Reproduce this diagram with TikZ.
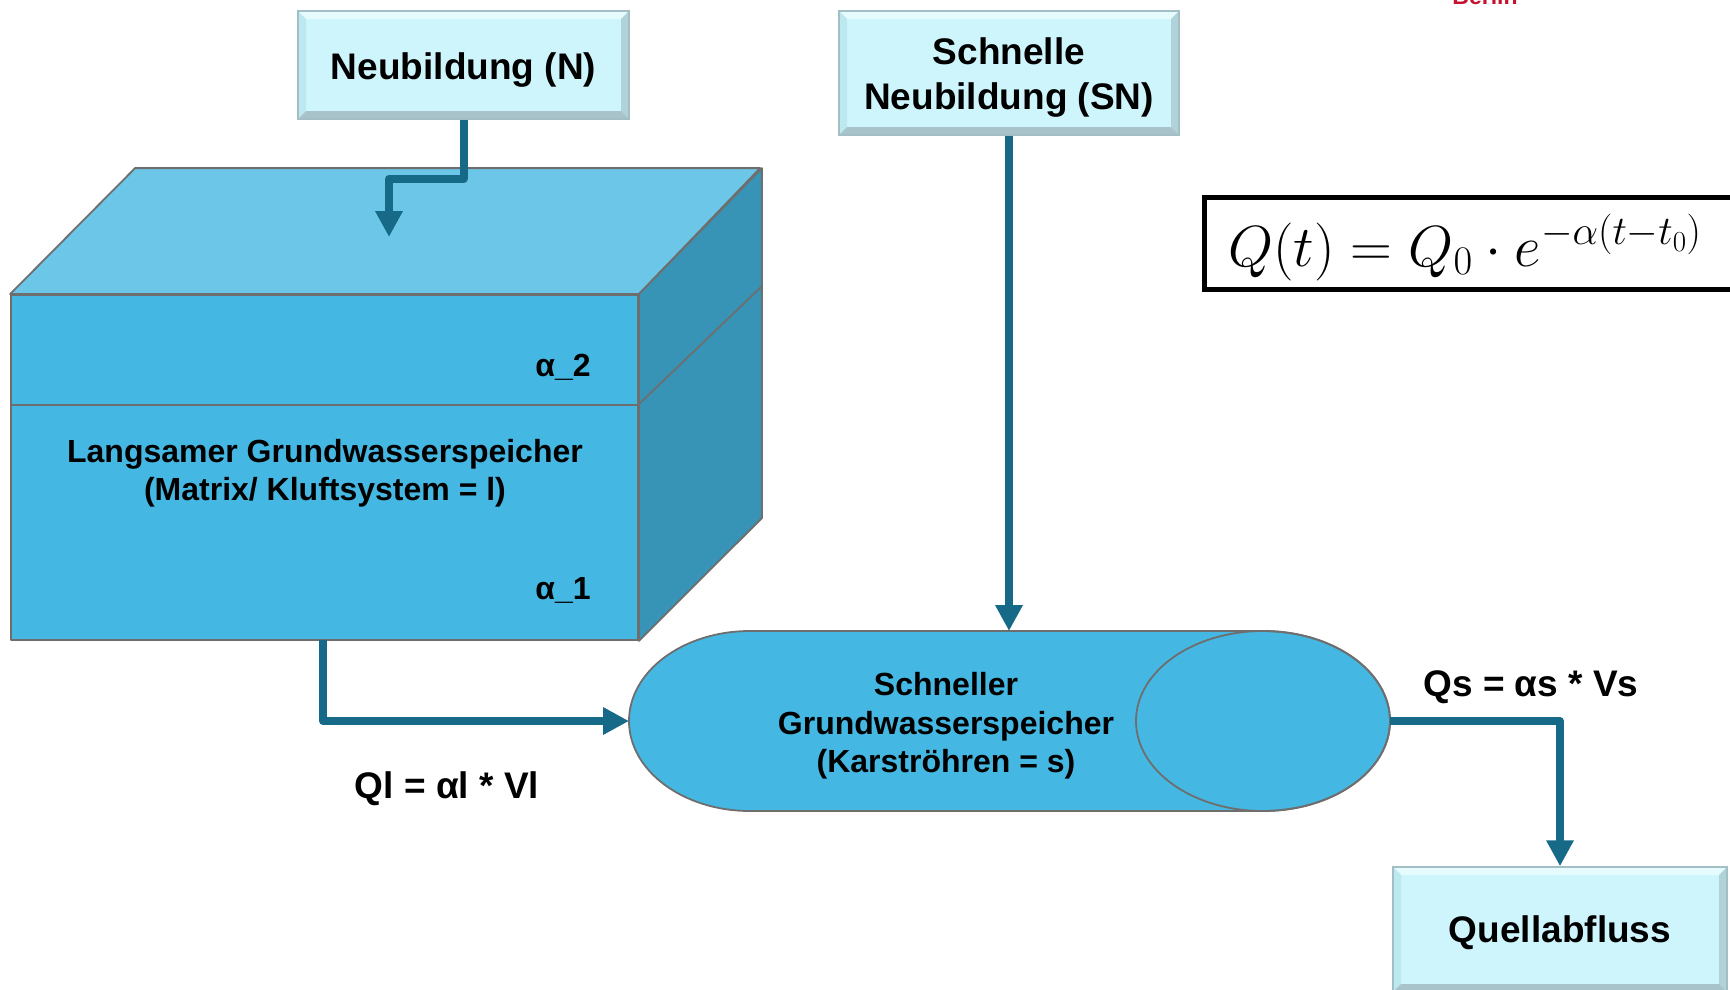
\RequirePackage{fix-cm}
\documentclass[tikz,border=0pt]{standalone}
\usepackage[no-math]{fontspec}
\setmainfont{Liberation Sans}
\usetikzlibrary{arrows.meta,calc}
\definecolor{boxfill}{HTML}{CFF5FC}
\definecolor{boxedge}{HTML}{A3BFC5}
\definecolor{bevtop}{HTML}{E6FBFE}
\definecolor{bevleft}{HTML}{BCE8F0}
\definecolor{bevright}{HTML}{B0D2D9}
\definecolor{bevbot}{HTML}{A8C4CA}
\definecolor{cubefront}{HTML}{44B8E2}
\definecolor{cubetop}{HTML}{6BC6E8}
\definecolor{cubeside}{HTML}{3794B6}
\definecolor{edgegray}{HTML}{6E6E6E}
\definecolor{flowc}{HTML}{176A87}
\definecolor{berlinred}{HTML}{C41230}
\tikzset{
  lbox/.style={fill=boxfill, draw=boxedge, line width=1.5, inner sep=0,
    path picture={
      \coordinate (bnw) at (path picture bounding box.north west);
      \coordinate (bne) at (path picture bounding box.north east);
      \coordinate (bsw) at (path picture bounding box.south west);
      \coordinate (bse) at (path picture bounding box.south east);
      \fill[bevtop] (bnw) -- (bne) -- ($(bne)+(-8,8)$) -- ($(bnw)+(8,8)$) -- cycle;
      \fill[bevleft] (bnw) -- ($(bnw)+(8,8)$) -- ($(bsw)+(8,-8)$) -- (bsw) -- cycle;
      \fill[bevright] (bne) -- ($(bne)+(-8,8)$) -- ($(bse)+(-8,-8)$) -- (bse) -- cycle;
      \fill[bevbot] (bsw) -- ($(bsw)+(8,-8)$) -- ($(bse)+(-8,-8)$) -- (bse) -- cycle;
    }},
  btext/.style={font=\bfseries\fontsize{37}{45}\selectfont, align=center, yshift=-5},
  flow/.style={draw=flowc, line width=8, line join=round,
    -{Triangle[width=26,length=26]}},
  lbl/.style={font=\bfseries\fontsize{37}{44}\selectfont, yshift=-3},
  inlbl/.style={font=\bfseries\fontsize{32}{38.5}\selectfont, align=center, yshift=-3},
  face/.style={draw=edgegray, line width=1.8, line join=round}
}
\begin{document}
\begin{tikzpicture}[x=1pt,y=-1pt]
\useasboundingbox (0,0) rectangle (1730,989);
% partial logo text at top edge
\node[font=\bfseries\fontsize{23}{23}\selectfont, text=berlinred, anchor=base] (logo) at (1485,4) {Berlin};
% input boxes
\node[lbox, minimum width=331, minimum height=108] (N) at (463.5,65) {};
\node[btext] (Ntext) at (N.center) {Neubildung (N)};
\node[lbox, minimum width=340, minimum height=124] (SN) at (1009,73) {};
\node[btext] (SNtext) at (SN.center) {Schnelle\\Neubildung (SN)};
% cube (slow storage)
\node[face, fill=cubefront, minimum width=627, minimum height=345, inner sep=0] (cube) at (324.5,467.5) {};
\path[face, fill=cubetop] (cube.north west) -- ++(125,-126) -- ++(625,0) -- (cube.north east) -- cycle;
\path[face, fill=cubeside] (cube.north east) -- ++(123,-126) -- ++(0,350) -- (cube.south east) -- cycle;
\draw[face] (11,405) -- (638,405) -- ++(123,-118);
\node[inlbl] (alpha2) at (563,364) {α\_2};
\node[inlbl] (alpha1) at (563,587) {α\_1};
\node[inlbl] (ltext) at (325,470) {Langsamer Grundwasserspeicher\\(Matrix/ Kluftsystem = l)};
% cylinder (fast storage)
\path[face, fill=cubefront] (1263,631) -- (750,631)
  arc[start angle=270, end angle=90, x radius=121, y radius=90]
  -- (1263,811)
  arc[start angle=90, end angle=-90, x radius=127, y radius=90] -- cycle;
\draw[face] (1263,721) ellipse[x radius=127, y radius=90];
\node[inlbl] (stext) at (946,723) {Schneller\\Grundwasserspeicher\\(Karströhren = s)};
\coordinate (cylL) at (629,721);
\coordinate (cylR) at (1390,721);
\coordinate (cylT) at (1009,631);
% output box
\node[lbox, minimum width=334, minimum height=125] (Q) at (1560,929.5) {};
\node[btext, yshift=2] (Qtext) at (Q.center) {Quellabfluss};
% formula
\node[draw=black, line width=5, minimum width=541, minimum height=92, inner sep=0] (fbox) at (1474.5,243.5) {};
\node[font=\fontsize{58}{62}\selectfont, anchor=base west, inner sep=0] (formula) at (1228,266) {$Q(t) = Q_0 \cdot e^{-\alpha(t-t_0)}$};
% connectors
\coordinate (Nin) at (389,237);
\coordinate (cubeOut) at (323,640);
\draw[flow] (N.south) -- ++(0,59) -| (Nin);
\draw[flow] (SN.south) -- (cylT);
\draw[flow] (cubeOut) |- (cylL);
\draw[flow] (cylR) -| (Q.north);
% labels
\node[lbl] (ql) at (447,786) {Ql = αl * Vl};
\node[lbl] (qs) at (1531,684) {Qs = αs * Vs};
\end{tikzpicture}
\end{document}
